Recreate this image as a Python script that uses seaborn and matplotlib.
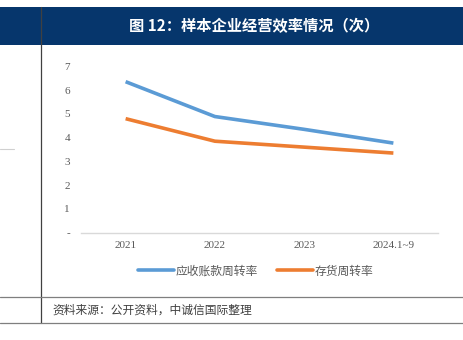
import matplotlib
matplotlib.use("Agg")
import matplotlib.pyplot as plt
import seaborn as sns
import pandas as pd
from matplotlib.lines import Line2D
from matplotlib.patches import Rectangle

categories = ["2021", "2022", "2023", "2024.1~9"]
receivable_turnover = [6.36, 4.89, 4.35, 3.77]
inventory_turnover = [4.80, 3.85, 3.60, 3.35]
series_names = ["应收账款周转率", "存货周转率"]
colors = ["#5B9BD5", "#ED7D31"]
yticks = [0, 1, 2, 3, 4, 5, 6, 7]
ytick_labels = ["-", "1", "2", "3", "4", "5", "6", "7"]
title = "图 12：样本企业经营效率情况（次）"
source = "资料来源：公开资料，中诚信国际整理"

sns.set_theme(style="white")
plt.rcParams['font.family'] = ['Noto Sans CJK SC', 'DejaVu Sans']

df = pd.DataFrame({
    "year": categories * 2,
    "value": receivable_turnover + inventory_turnover,
    "series": [series_names[0]] * 4 + [series_names[1]] * 4,
})

W, H = 464, 340
fig = plt.figure(figsize=(W / 100, H / 100), dpi=100)

def fx(px):
    return px / W

def fy(py):
    return 1 - py / H

ax = fig.add_axes([fx(81), fy(232.5), fx(438) - fx(81), fy(66.5) - fy(232.5)])
sns.lineplot(data=df, x="year", y="value", hue="series", palette=colors,
             linewidth=2.6, ax=ax, legend=False, sort=False)
for ln in ax.lines:
    ln.set_solid_capstyle("butt")
ax.set_xlim(-0.5, 3.5)
ax.set_ylim(0, 7)
ax.set_yticks(yticks)
ax.set_yticklabels(ytick_labels, family="Liberation Serif", fontsize=8, color="#595959")
ax.set_xticks(range(len(categories)))
ax.set_xticklabels(categories, family="Liberation Serif", fontsize=8, color="#595959")
ax.tick_params(axis="y", length=0, pad=8)
ax.tick_params(axis="x", length=0, pad=6)
ax.set_xlabel("")
ax.set_ylabel("")
for s in ["top", "right", "left"]:
    ax.spines[s].set_visible(False)
ax.spines["bottom"].set_color("#D9D9D9")
ax.spines["bottom"].set_linewidth(1.0)
ax.grid(False)

# Header band
fig.patches.append(Rectangle((0, fy(45)), 1, fy(7) - fy(45), transform=fig.transFigure,
                             facecolor="#06366C", edgecolor="none", zorder=0))
fig.text(fx(254), fy(26), title, color="white", fontsize=11, fontweight="bold",
         ha="center", va="center")

# Frame lines
fig.add_artist(Line2D([fx(41), fx(41)], [fy(7), fy(323)], transform=fig.transFigure,
                      color="#404040", linewidth=0.9))
fig.add_artist(Line2D([0, 1], [fy(297), fy(297)], transform=fig.transFigure,
                      color="#7F7F7F", linewidth=0.9))
fig.add_artist(Line2D([0, 1], [fy(323), fy(323)], transform=fig.transFigure,
                      color="#7F7F7F", linewidth=0.9))
fig.add_artist(Line2D([0, fx(14)], [fy(149), fy(149)], transform=fig.transFigure,
                      color="#D0D0D0", linewidth=0.8))

# Legend
handles = [Line2D([], [], color=c, linewidth=2.6) for c in colors]
fig.legend(handles, series_names, loc="center", bbox_to_anchor=(fx(256), fy(271)),
           ncol=2, frameon=False, fontsize=8.5, handlelength=3.0, handletextpad=0.2,
           columnspacing=1.6, labelcolor="#595959")

fig.text(fx(52), fy(310), source, color="#404040", fontsize=8.5, ha="left", va="center",
         fontstyle="italic")

fig.savefig("out.png", dpi=100)
